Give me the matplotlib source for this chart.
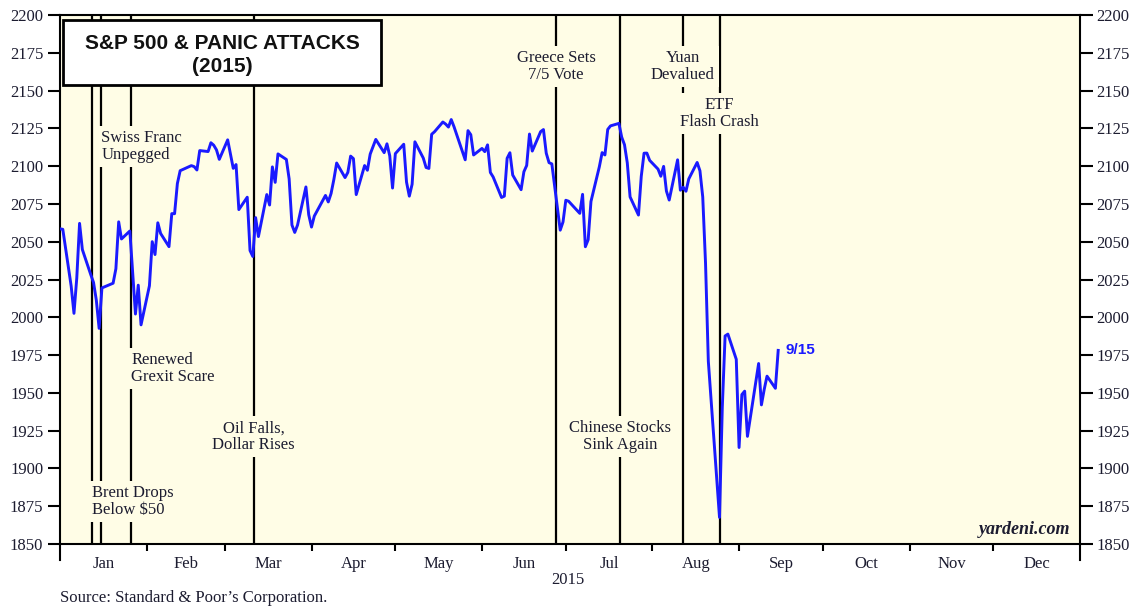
# Gráfico: S&P 500 y "panic attacks" de 2015 (estilo yardeni)
import matplotlib
matplotlib.use('Agg')
import matplotlib.pyplot as plt
import matplotlib.dates as mdates
from matplotlib.patches import Rectangle
import pandas as pd

# Datos del S&P 500 (cierre diario), 31-dic-2014 a 15-sep-2015
feriados = ['2015-01-19', '2015-02-16', '2015-04-03', '2015-05-25', '2015-07-03', '2015-09-07']
dias = pd.bdate_range('2015-01-02', '2015-09-15').drop(pd.to_datetime(feriados))
fechas = [pd.Timestamp('2014-12-31')] + list(dias)

sp500 = [2058.90,
         # ene
         2058.20, 2020.58, 2002.61, 2025.90, 2062.14, 2044.81, 2028.26, 2023.03, 2011.27, 1992.67,
         2019.42, 2022.55, 2032.12, 2063.15, 2051.82, 2057.09, 2029.55, 2002.16, 2021.25, 1994.99,
         # feb
         2020.85, 2050.03, 2041.51, 2062.52, 2055.47, 2046.74, 2068.59, 2068.53, 2088.48, 2096.99,
         2100.34, 2099.68, 2097.45, 2110.30, 2109.66, 2115.48, 2113.86, 2110.74, 2104.50,
         # mar
         2117.39, 2107.78, 2098.53, 2101.04, 2071.26, 2079.43, 2044.16, 2040.24, 2065.95, 2053.40,
         2081.19, 2074.28, 2099.50, 2089.27, 2108.10, 2104.42, 2091.50, 2061.05, 2056.15, 2061.02,
         2086.24, 2067.89,
         # abr
         2059.69, 2066.96, 2080.62, 2076.33, 2081.90, 2091.18, 2102.06, 2092.43, 2095.84, 2106.63,
         2104.99, 2081.18, 2100.40, 2097.29, 2107.96, 2112.93, 2117.69, 2108.92, 2114.76, 2106.85,
         2085.51,
         # may
         2108.29, 2114.49, 2089.46, 2080.15, 2088.00, 2116.10, 2105.33, 2099.12, 2098.48, 2121.10,
         2122.73, 2129.20, 2127.83, 2125.85, 2130.82, 2126.06, 2104.20, 2123.48, 2120.79, 2107.39,
         # jun
         2111.73, 2109.60, 2114.07, 2095.84, 2092.83, 2079.28, 2080.15, 2105.20, 2108.86, 2094.11,
         2084.43, 2096.29, 2100.44, 2121.24, 2109.99, 2122.85, 2124.20, 2108.58, 2102.31, 2101.49,
         2057.64, 2063.11,
         # jul
         2077.42, 2076.78, 2068.76, 2081.34, 2046.68, 2051.31, 2076.62, 2099.60, 2108.95, 2107.40,
         2124.29, 2126.64, 2128.28, 2119.21, 2114.15, 2102.15, 2079.65, 2067.64, 2093.25, 2108.57,
         2108.63, 2103.84,
         # ago
         2098.04, 2093.32, 2099.84, 2083.56, 2077.57, 2104.18, 2084.07, 2086.05, 2083.39, 2091.54,
         2102.44, 2096.92, 2079.61, 2035.73, 1970.89, 1893.21, 1867.61, 1940.51, 1987.66, 1988.87,
         1972.18,
         # sep
         1913.85, 1948.86, 1951.13, 1921.22, 1969.41, 1942.04, 1952.29, 1961.05, 1953.03, 1978.09]

# Eventos marcados con líneas verticales
eventos_fecha = ['2015-01-12 12:00', '2015-01-15 20:00', '2015-01-26 10:00', '2015-03-11 06:00',
                 '2015-06-27 12:00', '2015-07-20 10:00', '2015-08-11 19:00', '2015-08-25']
eventos_texto = ['Brent Drops\nBelow $50', 'Swiss Franc\nUnpegged', 'Renewed\nGrexit Scare',
                 'Oil Falls,\nDollar Rises', 'Greece Sets\n7/5 Vote', 'Chinese Stocks\nSink Again',
                 'Yuan\nDevalued', 'ETF\nFlash Crash']
# Ubicación de cada etiqueta (nivel vertical y alineación)
eventos_nivel = [1878, 2113, 1966, 1921, 2166, 1921, 2166, 2135]
eventos_alin = ['left', 'left', 'left', 'center', 'center', 'center', 'center', 'center']

meses = ['Jan', 'Feb', 'Mar', 'Apr', 'May', 'Jun', 'Jul', 'Aug', 'Sep', 'Oct', 'Nov', 'Dec']
ticks_y = list(range(1850, 2201, 25))

fondo = '#fffde6'
azul = '#1a1aff'
texto = '#1c1c30'

plt.rcParams['font.family'] = ['Liberation Serif', 'DejaVu Serif']

fig = plt.figure(figsize=(11.35, 6.08), dpi=100)
ax = fig.add_axes([60 / 1135, 64 / 608, 1020 / 1135, 529 / 608])
ax.set_facecolor(fondo)

# Serie del S&P 500
ax.plot(fechas, sp500, color=azul, lw=2.1, zorder=4)
ax.text(fechas[-1] + pd.Timedelta(days=2.5), sp500[-1], '9/15', color=azul, fontsize=11,
        fontweight='bold', family='Liberation Sans', va='center', ha='left', zorder=6)

# Líneas de eventos con sus etiquetas
for f, t, n, a in zip(eventos_fecha, eventos_texto, eventos_nivel, eventos_alin):
    ax.axvline(pd.Timestamp(f), color='black', lw=1.6, zorder=2)
    ax.text(pd.Timestamp(f), n, t, ha=a, va='center', fontsize=12, color=texto,
            linespacing=1.08, zorder=3,
            bbox=dict(facecolor=fondo, edgecolor='none', pad=3))

# Ejes
inicio = pd.Timestamp('2015-01-01')
fin = pd.Timestamp('2016-01-01')
ax.set_xlim(inicio, fin)
ax.set_ylim(1850, 2200)
ax.set_yticks(ticks_y)
ax.tick_params(axis='y', direction='out', length=9, width=1.5, left=True, right=True,
               labelleft=True, labelright=True, pad=3, labelsize=12, labelcolor=texto)

limites = pd.date_range(inicio, fin, freq='MS')
medios = limites[:-1] + (limites[1:] - limites[:-1]) / 2
ax.set_xticks(mdates.date2num(medios))
ax.set_xticklabels(meses)
ax.set_xticks(mdates.date2num(limites[1:-1]), minor=True)
ax.tick_params(axis='x', which='major', length=0, pad=9, labelsize=12, labelcolor=texto)
ax.tick_params(axis='x', which='minor', direction='out', length=5, width=1.5)

for s in ax.spines.values():
    s.set_linewidth(1.5)
# prolongación de los ejes laterales hacia abajo
for xx in (0, 1):
    ax.plot([xx, xx], [0, -0.03], transform=ax.transAxes, color='black', lw=1.5, clip_on=False)

# Cuadro del título
ax.add_patch(Rectangle((0.003, 0.8677), 0.3117, 0.1228, transform=ax.transAxes,
                       facecolor='white', edgecolor='black', lw=2, zorder=5))
ax.text(0.159, 0.947, 'S&P 500 & PANIC ATTACKS', transform=ax.transAxes, ha='center', va='center',
        fontsize=15, fontweight='bold', family='Liberation Sans', color='#111111', zorder=6)
ax.text(0.159, 0.903, '(2015)', transform=ax.transAxes, ha='center', va='center',
        fontsize=15, fontweight='bold', family='Liberation Sans', color='#111111', zorder=6)

ax.text(0.990, 0.012, 'yardeni.com', transform=ax.transAxes, ha='right', va='bottom',
        fontsize=13, fontweight='bold', style='italic', color=texto, zorder=6)

fig.text(568 / 1135, 1 - 580 / 608, '2015', ha='center', va='center', fontsize=12, color=texto)
fig.text(60 / 1135, 1 - 598 / 608, 'Source: Standard & Poor\u2019s Corporation.', ha='left',
         va='center', fontsize=12, color=texto)

fig.savefig('out.png', dpi=100, facecolor='white')
